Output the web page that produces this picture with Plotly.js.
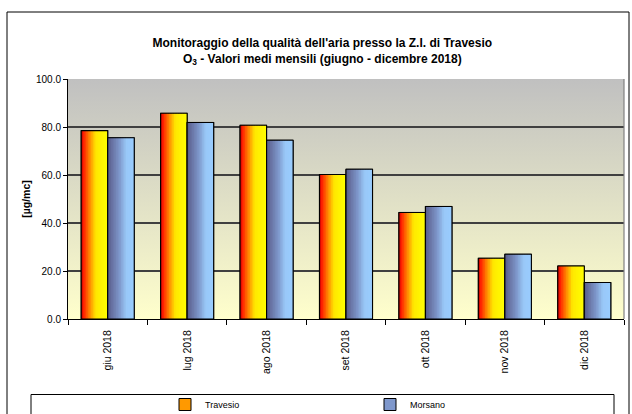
<!DOCTYPE html>
<html>
<head>
<meta charset="utf-8">
<script src="https://cdn.plot.ly/plotly-3.0.1.min.js"></script>
<style>html,body{margin:0;padding:0;background:#fff;}#chart{width:632px;height:414px;}</style>
</head>
<body>
<div id="chart"></div>
<script>
const months = ['giu 2018', 'lug 2018', 'ago 2018', 'set 2018', 'ott 2018', 'nov 2018', 'dic 2018'];
const travesio = [78.5, 85.7, 80.7, 60.2, 44.4, 25.3, 22.1];
const morsano = [75.5, 81.9, 74.5, 62.4, 46.9, 27.0, 15.2];
const seriesNames = ['Travesio', 'Morsano'];
const yTicks = [0, 20, 40, 60, 80, 100];

const FONT = 'Arial, "Liberation Sans", sans-serif';
const BAR_W = 0.334;
const N = 16;

const travStops = [[0, [200, 0, 0]], [0.08, [255, 26, 0]], [0.3, [255, 128, 0]], [0.55, [255, 232, 0]], [1, [255, 255, 0]]];
const morsStops = [[0, [85, 90, 136]], [0.15, [102, 112, 160]], [0.45, [127, 152, 204]], [0.7, [153, 200, 248]], [1, [153, 204, 255]]];

function interp(stops, t) {
  for (let i = 1; i < stops.length; i++) {
    if (t <= stops[i][0]) {
      const a = stops[i - 1], b = stops[i];
      const f = (t - a[0]) / (b[0] - a[0]);
      const c = a[1].map((v, k) => Math.round(v + (b[1][k] - v) * f));
      return 'rgb(' + c.join(',') + ')';
    }
  }
  const l = stops[stops.length - 1][1];
  return 'rgb(' + l.join(',') + ')';
}

const traces = [];
function addSeries(name, values, base, stops, legendColor) {
  traces.push({
    type: 'bar', x: months, y: values, name: name,
    offset: base, width: BAR_W,
    marker: {color: legendColor, line: {color: '#000', width: 1}},
    showlegend: true, hoverinfo: 'skip'
  });
  const s = BAR_W / N;
  for (let i = 0; i < N; i++) {
    const w = Math.min(s * 1.5, BAR_W - i * s);
    traces.push({
      type: 'bar', x: months, y: values, name: name,
      offset: base + i * s, width: w,
      marker: {color: interp(stops, (i + 0.5) / N), line: {width: 0}},
      showlegend: false, hoverinfo: 'skip'
    });
  }
  traces.push({
    type: 'bar', x: months, y: values, name: name,
    offset: base, width: BAR_W,
    marker: {color: 'rgba(0,0,0,0)', line: {color: '#000', width: 1.1}},
    showlegend: false, hoverinfo: 'skip'
  });
}
addSeries(seriesNames[0], travesio, -BAR_W, travStops, '#ff9900');
addSeries(seriesNames[1], morsano, 0, morsStops, '#7f98cc');

const svg = "<svg xmlns='http://www.w3.org/2000/svg' width='10' height='100' preserveAspectRatio='none'>" +
  "<defs><linearGradient id='g' x1='0' y1='0' x2='0' y2='1'>" +
  "<stop offset='0' stop-color='#c0c0c0'/><stop offset='1' stop-color='#ffffcc'/>" +
  "</linearGradient></defs><rect width='10' height='100' fill='url(#g)'/></svg>";
const bgSrc = 'data:image/svg+xml;base64,' + btoa(svg);

const PH = 414 - 79 - 95;

const layout = {
  width: 632, height: 414,
  margin: {l: 68, r: 8, t: 79, b: 95, autoexpand: false},
  paper_bgcolor: '#ffffff',
  plot_bgcolor: '#e6e6c8',
  barmode: 'overlay',
  font: {family: FONT, size: 10, color: '#000'},
  title: {
    text: "<b>Monitoraggio della qualità dell'aria presso la Z.I. di Travesio<br>O<sub>3</sub> - Valori medi mensili (giugno - dicembre 2018)</b>",
    font: {family: FONT, size: 12, color: '#000'},
    xref: 'container', x: 0.51, xanchor: 'center',
    yref: 'container', y: 1 - 47 / 414, yanchor: 'top'
  },
  xaxis: {
    type: 'category', categoryarray: months, automargin: false,
    tickangle: -90, ticks: 'outside', tickson: 'boundaries', ticklen: 5,
    ticklabelstandoff: 6,
    tickcolor: '#000', showline: true, linecolor: '#000', linewidth: 1,
    showgrid: false, zeroline: false,
    tickfont: {family: FONT, size: 10.5, color: '#000'}
  },
  yaxis: {
    range: [0, 100], tickvals: yTicks, tickformat: '.1f', automargin: false,
    ticks: 'outside', ticklen: 4, tickcolor: '#000',
    showline: true, linecolor: '#000', linewidth: 1,
    showgrid: true, gridcolor: '#404040', gridwidth: 1.3, zeroline: false,
    tickfont: {family: FONT, size: 10, color: '#000'},
    title: {text: '<b>[µg/mc]</b>', font: {family: FONT, size: 10.5, color: '#000'}, standoff: 3}
  },
  legend: {
    orientation: 'h', x: (165 - 68) / 556, xanchor: 'left', y: (319 - 390) / PH, yanchor: 'top',
    entrywidth: 160, entrywidthmode: 'pixels',
    font: {family: FONT, size: 9, color: '#000'},
    bgcolor: 'rgba(0,0,0,0)', borderwidth: 0
  },
  images: [{
    source: bgSrc, xref: 'paper', yref: 'paper', x: 0, y: 1, sizex: 1, sizey: 1,
    xanchor: 'left', yanchor: 'top', sizing: 'stretch', layer: 'below'
  }],
  shapes: [
    {type: 'line', xref: 'paper', yref: 'paper', x0: 1, x1: 1, y0: 0, y1: 1, line: {color: '#808080', width: 1.2}},
    {type: 'rect', xref: 'paper', yref: 'paper', x0: (7 - 68) / 556, x1: (629 - 68) / 556, y0: -0.5, y1: (319 - 12) / PH, line: {color: '#000', width: 1}, fillcolor: 'rgba(0,0,0,0)'},
    {type: 'rect', xref: 'paper', yref: 'paper', x0: (31 - 68) / 556, x1: (614 - 68) / 556, y0: -0.5, y1: (319 - 394.5) / PH, line: {color: '#000', width: 1}, fillcolor: 'rgba(0,0,0,0)'}
  ],
  hovermode: false
};

Plotly.newPlot('chart', traces, layout, {displayModeBar: false, staticPlot: true});
</script>
</body>
</html>
